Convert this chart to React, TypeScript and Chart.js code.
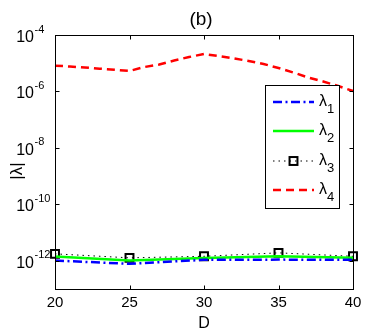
import React, { useEffect, useRef } from 'react';
import { Chart, registerables } from 'chart.js';

Chart.register(...registerables);

// ---- data ----
const D_MARK = [20, 25, 30, 35, 40];
const D_FINE = [20, 21, 22, 23, 24, 25, 26, 27, 28, 29, 30, 31, 32, 33, 34, 35, 36, 37, 38, 39, 40];
const LAMBDA1 = [1.02e-12, 0.78e-12, 1.08e-12, 1.1e-12, 1.08e-12];
const LAMBDA2 = [1.41e-12, 1.02e-12, 1.25e-12, 1.44e-12, 1.27e-12];
const LAMBDA3 = [1.76e-12, 1.27e-12, 1.44e-12, 1.91e-12, 1.44e-12];
const LAMBDA4 = [
  8.17e-6, 7.66e-6, 7.05e-6, 6.39e-6, 5.85e-6, 5.3e-6, 7.34e-6, 9.01e-6, 1.25e-5, 1.66e-5, 2.12e-5,
  1.8e-5, 1.49e-5, 1.2e-5, 9.38e-6, 6.77e-6, 4.69e-6, 3.12e-6, 2.25e-6, 1.56e-6, 1.04e-6,
];
const X_TICKS = [20, 25, 30, 35, 40];
const Y_TICK_EXPONENTS = [-12, -10, -8, -6, -4];
const SERIES_NAMES = ['λ1', 'λ2', 'λ3', 'λ4'];
const LEGEND_SUBS = ['1', '2', '3', '4'];
const TITLE = '(b)';
const X_LABEL = 'D';
const Y_LABEL = '|λ|';

const FONT = '"Liberation Sans", Arial, Helvetica, sans-serif';

const zip = (xs: number[], ys: number[]) => xs.map((x, i) => ({ x, y: ys[i] }));

const decorPlugin = {
  id: 'matlabDecor',
  afterDraw(chart: any) {
    const { ctx, chartArea: a, scales } = chart;
    const xs = scales.x;
    const ys = scales.y;
    ctx.save();
    ctx.strokeStyle = '#000';
    ctx.lineWidth = 1;
    ctx.setLineDash([]);
    const L = Math.round(a.left) + 0.5;
    const R = Math.round(a.right) + 0.5;
    const T = Math.round(a.top) + 0.5;
    const B = Math.round(a.bottom) + 0.5;
    ctx.strokeRect(L, T, R - L, B - T);
    const TL = 4;
    ctx.beginPath();
    xs.ticks.forEach((t: any) => {
      const px = Math.round(xs.getPixelForValue(t.value)) + 0.5;
      ctx.moveTo(px, B);
      ctx.lineTo(px, B - TL);
      ctx.moveTo(px, T);
      ctx.lineTo(px, T + TL);
    });
    ys.ticks.forEach((t: any) => {
      const py = Math.round(ys.getPixelForValue(t.value)) + 0.5;
      ctx.moveTo(L, py);
      ctx.lineTo(L + TL, py);
      ctx.moveTo(R, py);
      ctx.lineTo(R - TL, py);
    });
    ctx.stroke();

    ctx.fillStyle = '#000';
    // x tick labels
    ctx.font = `15px ${FONT}`;
    ctx.textAlign = 'center';
    ctx.textBaseline = 'alphabetic';
    xs.ticks.forEach((t: any) => {
      const px = xs.getPixelForValue(t.value);
      ctx.fillText(String(t.value), px, 307);
    });
    // y tick labels 10^n
    ys.ticks.forEach((t: any) => {
      const py = ys.getPixelForValue(t.value);
      const e = Math.round(Math.log10(t.value));
      ctx.font = `16px ${FONT}`;
      ctx.textAlign = 'right';
      ctx.fillText('10', 34, py + 7);
      ctx.font = `11px ${FONT}`;
      ctx.textAlign = 'left';
      ctx.fillText(String(e), 34.5, py - 2.5);
    });
    // x label
    ctx.font = `16px ${FONT}`;
    ctx.textAlign = 'center';
    ctx.fillText(X_LABEL, (a.left + a.right) / 2, 328);
    // y label
    ctx.save();
    ctx.translate(22, 171);
    ctx.rotate(-Math.PI / 2);
    ctx.font = `17px ${FONT}`;
    ctx.textAlign = 'center';
    ctx.fillText(Y_LABEL, 0, 0);
    ctx.restore();
    // title
    ctx.font = `19px ${FONT}`;
    ctx.textAlign = 'center';
    ctx.fillText(TITLE, 201, 25);

    // legend
    const lx0 = 265.5, ly0 = 85.5, lw = 74, lh = 123;
    ctx.fillStyle = '#fff';
    ctx.fillRect(lx0, ly0, lw, lh);
    ctx.strokeStyle = '#000';
    ctx.lineWidth = 1;
    ctx.strokeRect(lx0, ly0, lw, lh);
    const rows = [102, 131, 161, 190];
    chart.data.datasets.forEach((ds: any, i: number) => {
      const y = rows[i];
      ctx.save();
      ctx.strokeStyle = ds.borderColor;
      ctx.lineWidth = ds.borderWidth;
      ctx.setLineDash(ds.borderDash || []);
      ctx.beginPath();
      ctx.moveTo(273, y);
      ctx.lineTo(314, y);
      ctx.stroke();
      if (ds.pointRadius > 0) {
        ctx.setLineDash([]);
        ctx.lineWidth = ds.pointBorderWidth;
        ctx.strokeStyle = ds.pointBorderColor;
        const s = ds.pointRadius * Math.SQRT1_2;
        ctx.strokeRect(293.5 - s, y - s, 2 * s, 2 * s);
      }
      ctx.restore();
      ctx.fillStyle = '#000';
      ctx.textAlign = 'left';
      ctx.font = `16px ${FONT}`;
      ctx.fillText('λ', 319, y + 4);
      ctx.font = `13px ${FONT}`;
      ctx.fillText(LEGEND_SUBS[i], 327, y + 11);
    });
    ctx.restore();
  },
};

export default function App() {
  const ref = useRef<HTMLCanvasElement | null>(null);
  useEffect(() => {
    document.body.style.margin = '0';
    const canvas = ref.current;
    if (!canvas) return;
    const chart = new Chart(canvas, {
      type: 'line',
      data: {
        datasets: [
          {
            label: SERIES_NAMES[0],
            data: zip(D_MARK, LAMBDA1),
            borderColor: '#0000ff',
            borderWidth: 2.5,
            borderDash: [9, 3.5, 2, 3.5],
            pointRadius: 0,
            pointBorderWidth: 0,
            pointBorderColor: '#0000ff',
            fill: false,
            clip: false,
          },
          {
            label: SERIES_NAMES[1],
            data: zip(D_MARK, LAMBDA2),
            borderColor: '#00ff00',
            borderWidth: 2.5,
            pointRadius: 0,
            pointBorderWidth: 0,
            pointBorderColor: '#00ff00',
            fill: false,
            clip: false,
          },
          {
            label: SERIES_NAMES[2],
            data: zip(D_MARK, LAMBDA3),
            borderColor: '#000000',
            borderWidth: 1,
            borderDash: [1.5, 4],
            pointStyle: 'rect',
            pointRadius: 5.6,
            pointBorderWidth: 2,
            pointBorderColor: '#000000',
            pointBackgroundColor: 'rgba(0,0,0,0)',
            fill: false,
            clip: false,
          },
          {
            label: SERIES_NAMES[3],
            data: zip(D_FINE, LAMBDA4),
            borderColor: '#ff0000',
            borderWidth: 2.5,
            borderDash: [8, 5],
            pointRadius: 0,
            pointBorderWidth: 0,
            pointBorderColor: '#ff0000',
            fill: false,
            clip: false,
          },
        ] as any,
      },
      options: {
        animation: false,
        responsive: false,
        devicePixelRatio: 1,
        layout: { padding: { left: 0, right: 32, top: 35, bottom: 0 } },
        plugins: { legend: { display: false }, title: { display: false }, tooltip: { enabled: false } },
        elements: { line: { tension: 0 } },
        scales: {
          x: {
            type: 'linear',
            min: 20,
            max: 40,
            grid: { display: false },
            border: { display: false },
            ticks: { display: false },
            afterBuildTicks: (s: any) => {
              s.ticks = X_TICKS.map((v) => ({ value: v }));
            },
            afterFit: (s: any) => {
              s.height = 44;
            },
          },
          y: {
            type: 'logarithmic',
            min: 1e-13,
            max: 1e-4,
            grid: { display: false },
            border: { display: false },
            ticks: { display: false },
            afterBuildTicks: (s: any) => {
              s.ticks = Y_TICK_EXPONENTS.map((e) => ({ value: Math.pow(10, e) }));
            },
            afterFit: (s: any) => {
              s.width = 55;
            },
          },
        },
      } as any,
      plugins: [decorPlugin],
    });
    return () => chart.destroy();
  }, []);
  return (
    <div style={{ width: 385, height: 333, background: '#fff' }}>
      <canvas ref={ref} width={385} height={333} style={{ display: 'block' }} />
    </div>
  );
}
